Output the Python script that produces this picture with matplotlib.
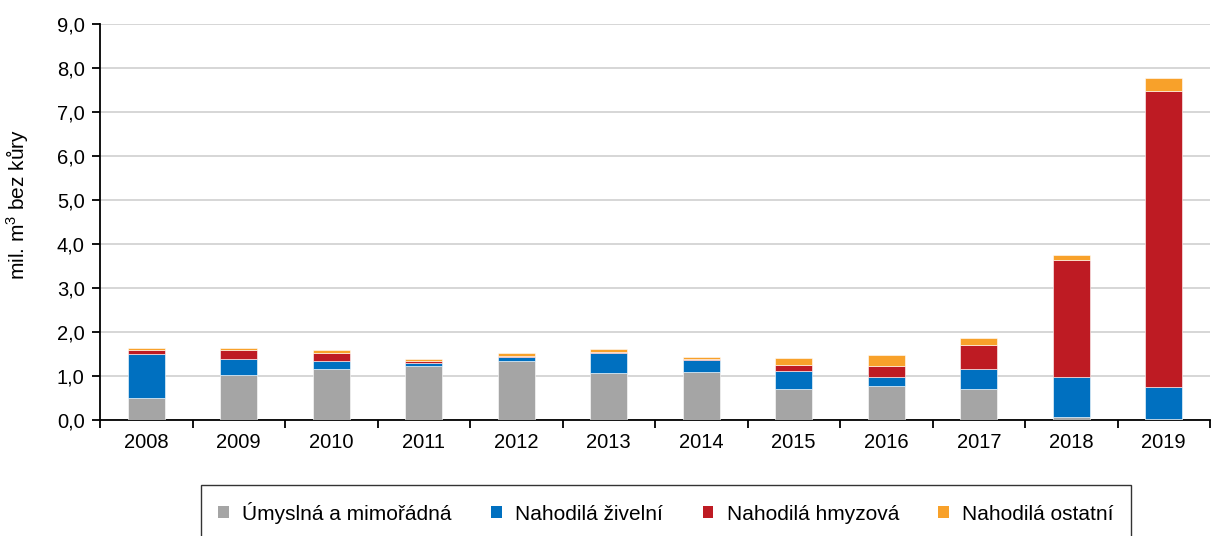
import matplotlib.pyplot as plt
import numpy as np
from matplotlib.patches import Patch
from matplotlib.ticker import MultipleLocator, FixedLocator, FuncFormatter

plt.rcParams['font.family'] = ['Liberation Sans', 'DejaVu Sans']
plt.rcParams['mathtext.fontset'] = 'custom'
plt.rcParams['mathtext.rm'] = 'Liberation Sans'

years = ['2008', '2009', '2010', '2011', '2012', '2013', '2014', '2015', '2016', '2017', '2018', '2019']
umyslna = [0.51, 1.03, 1.15, 1.22, 1.33, 1.07, 1.10, 0.70, 0.78, 0.71, 0.07, 0.03]
zivelni = [0.985, 0.35, 0.20, 0.08, 0.11, 0.45, 0.26, 0.42, 0.20, 0.45, 0.91, 0.73]
hmyzova = [0.105, 0.21, 0.17, 0.04, 0.02, 0.03, 0.02, 0.13, 0.24, 0.55, 2.65, 6.72]
ostatni = [0.045, 0.05, 0.07, 0.045, 0.07, 0.075, 0.06, 0.15, 0.25, 0.15, 0.12, 0.30]

series = [
    ('Úmyslná a mimořádná', umyslna, '#A5A5A5'),
    ('Nahodilá živelní', zivelni, '#0070C0'),
    ('Nahodilá hmyzová', hmyzova, '#BE1B23'),
    ('Nahodilá ostatní', ostatni, '#F8A12A'),
]

fs = 14.5

fig = plt.figure(figsize=(12.16, 5.36), dpi=100)
ax = fig.add_axes([100 / 1216, 116 / 536, 1110 / 1216, 396 / 536])

x = np.arange(len(years))
bottom = np.zeros(len(years))
handles = []
for name, vals, col in series:
    ax.bar(x, vals, 0.4, bottom=bottom, color=col, edgecolor='white', linewidth=0.4, zorder=3)
    bottom += np.array(vals)
    handles.append(Patch(facecolor=col, edgecolor='none', label=name))

ax.set_xlim(-0.5, len(years) - 0.5)
ax.set_ylim(0, 9)
ax.yaxis.set_major_locator(MultipleLocator(1))
ax.yaxis.set_major_formatter(FuncFormatter(lambda v, p: f'{v:.1f}'.replace('.', ',')))
ax.grid(axis='y', color='#D0D0D0', linewidth=1.2, zorder=0)

ax.set_xticks(x)
ax.set_xticklabels(years)
ax.xaxis.set_minor_locator(FixedLocator(np.arange(-0.5, len(years), 1)))
ax.tick_params(axis='x', which='major', length=0, pad=9, labelsize=fs)
ax.tick_params(axis='x', which='minor', length=6, width=1.3, direction='out')
ax.tick_params(axis='y', length=6, width=1.3, direction='out', labelsize=fs, pad=5)

for s in ['top', 'right']:
    ax.spines[s].set_visible(False)
ax.spines['left'].set_linewidth(1.3)
ax.spines['bottom'].set_linewidth(1.3)

ax.set_ylabel('mil. m$^\\mathrm{3}$ bez kůry', fontsize=15)
ax.yaxis.set_label_coords(-0.062, 0.545)

leg = fig.legend(handles=handles, loc='upper center', bbox_to_anchor=(666 / 1216, 51 / 536),
                 ncol=4, fontsize=15, frameon=True, fancybox=False, edgecolor='black',
                 handlelength=0.5, handleheight=0.5, handletextpad=0.65, columnspacing=1.9,
                 borderpad=0.8, borderaxespad=0)
leg.get_frame().set_linewidth(1.0)

fig.savefig('out.png', dpi=100)
